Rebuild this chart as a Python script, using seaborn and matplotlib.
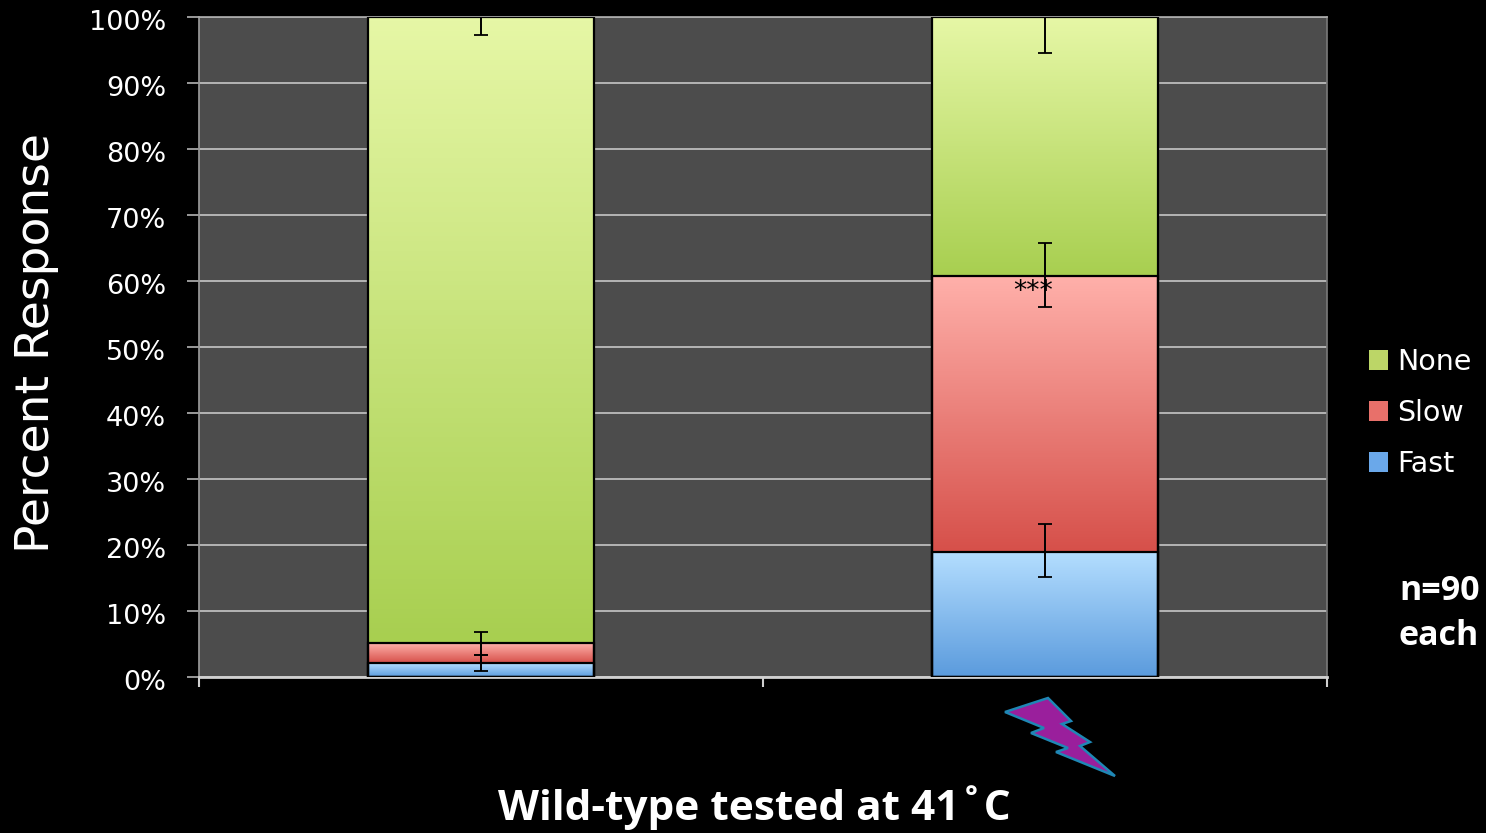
import numpy as np
import pandas as pd
import matplotlib
matplotlib.use('Agg')
import matplotlib.pyplot as plt
from matplotlib.colors import LinearSegmentedColormap
from matplotlib.patches import Patch, Polygon
from matplotlib.transforms import ScaledTranslation
import seaborn as sns

groups = ['Control', 'Heat']
responses = ['None', 'Slow', 'Fast']

# cumulative tops of each stacked segment
fast_top = [2.1, 19.0]
slow_top = [5.1, 60.8]
none_top = [100.0, 100.0]

# error bar ends (low, high)
fast_err = [(0.9, 3.4), (15.2, 23.2)]
slow_err = [(3.4, 6.8), (56.0, 65.8)]
none_err = [(97.3, 102.0), (94.5, 105.0)]

yticks = list(range(0, 101, 10))

gradients = {
    'None': ('#e6f7a6', '#a8cf50'),
    'Slow': ('#ffb0aa', '#d6504a'),
    'Fast': ('#b4deff', '#5b9bdd'),
}
legend_colors = {'None': '#bcd667', 'Slow': '#e8706a', 'Fast': '#6aa8ea'}

# lightning bolt outline, pixels of the 1486x833 picture
bolt_x = [1005, 1048, 1071, 1062, 1090, 1080, 1115, 1056, 1068, 1031, 1044]
bolt_y = [712, 698, 721, 724, 742, 746, 776, 752, 748, 733, 728]

sns.set_theme(style='dark', rc={'axes.facecolor': '#4c4c4c', 'figure.facecolor': 'black'})

df = pd.DataFrame({
    'group': groups * 3,
    'response': ['None'] * 2 + ['Slow'] * 2 + ['Fast'] * 2,
    'top': none_top + slow_top + fast_top,
})

fig = plt.figure(figsize=(14.86, 8.33), dpi=100)
ax = fig.add_axes([199 / 1486, 1 - 677 / 833, 1128 / 1486, 660 / 833])

sns.barplot(data=df, x='group', y='top', hue='response', hue_order=responses, order=groups,
            dodge=False, width=0.4, fill=False, linewidth=1.6, edgecolor='black', legend=False,
            err_kws={'linewidth': 0}, zorder=3, ax=ax)

# gradient fill for each segment
bottoms = {'None': slow_top, 'Slow': fast_top, 'Fast': [0, 0]}
for resp, cont in zip(responses, ax.containers):
    cmap = LinearSegmentedColormap.from_list(resp, gradients[resp])
    for i, bar in enumerate(cont):
        bar.set_edgecolor('black')
        bar.set_linewidth(1.6)
        ext = (bar.get_x(), bar.get_x() + bar.get_width(), bottoms[resp][i], bar.get_height())
        ax.imshow(np.linspace(0, 1, 128).reshape(-1, 1), cmap=cmap, extent=ext, origin='upper',
                  aspect='auto', zorder=2)

for errs in [fast_err, slow_err, none_err]:
    for i, (lo, hi) in enumerate(errs):
        mid = (lo + hi) / 2
        ax.errorbar(i, mid, yerr=(hi - lo) / 2, color='black', linewidth=1.4, capsize=5,
                    capthick=1.3, zorder=4)

ax.set_xlim(-0.5, 1.5)
ax.set_ylim(0, 100)
ax.set_yticks(yticks)
ax.set_yticklabels([f'{v}%' for v in yticks], color='white', fontsize=19.5)
ax.set_xticks([-0.5, 0.5, 1.5])
ax.set_xticklabels([])
ax.set_xlabel('')
ax.set_ylabel('')
ax.yaxis.grid(True, color='#b4b4b4', linewidth=1.4, zorder=1)
ax.set_axisbelow(True)
ax.tick_params(axis='x', bottom=True, length=7, width=1.5, color='#d0d0d0')
ax.tick_params(axis='y', left=True, length=8.6, width=1.2, color='#b4b4b4', pad=15)
shift = ScaledTranslation(0, -3 / 100, fig.dpi_scale_trans)
for label in ax.get_yticklabels():
    label.set_transform(label.get_transform() + shift)
ax.spines['left'].set_color('#999999')
ax.spines['top'].set_color('#aaaaaa')
ax.spines['right'].set_color('#777777')
ax.spines['bottom'].set_color('#d0d0d0')
ax.spines['bottom'].set_linewidth(2)

ax.text(0.979, 58.3, '***', color='black', fontsize=19, ha='center', va='center', zorder=5)

handles = [Patch(facecolor=legend_colors[r], edgecolor='none') for r in responses]
leg = fig.legend(handles, responses, loc='center left', bbox_to_anchor=(1369 / 1486, 1 - 413 / 833),
                 frameon=False, fontsize=20.5, labelcolor='white', handlelength=0.68, handleheight=0.68,
                 handletextpad=0.3, labelspacing=0.81, borderpad=0, borderaxespad=0)

fig.text(37 / 1486, 1 - 343 / 833, 'Percent Response', rotation=90, color='white', fontsize=34,
         ha='center', va='center')
fig.text(754 / 1486, 1 - 808 / 833, 'Wild-type tested at 41˚C', color='white', fontsize=30.5,
         fontweight='bold', family='Open Sans', ha='center', va='center')
fig.text(1399 / 1486, 1 - 591 / 833, 'n=90', color='white', fontsize=24.5, fontweight='bold',
         family='Open Sans', ha='left', va='center')
fig.text(1399 / 1486, 1 - 636 / 833, 'each', color='white', fontsize=24.5, fontweight='bold',
         family='Open Sans', ha='left', va='center')

bolt = np.column_stack([np.array(bolt_x) / 1486, 1 - np.array(bolt_y) / 833])
fig.add_artist(Polygon(bolt, closed=True, transform=fig.transFigure, facecolor='#9a1f9c',
                       edgecolor='#1f87b5', linewidth=1.8))

fig.savefig('out.png', dpi=100, facecolor='black')
